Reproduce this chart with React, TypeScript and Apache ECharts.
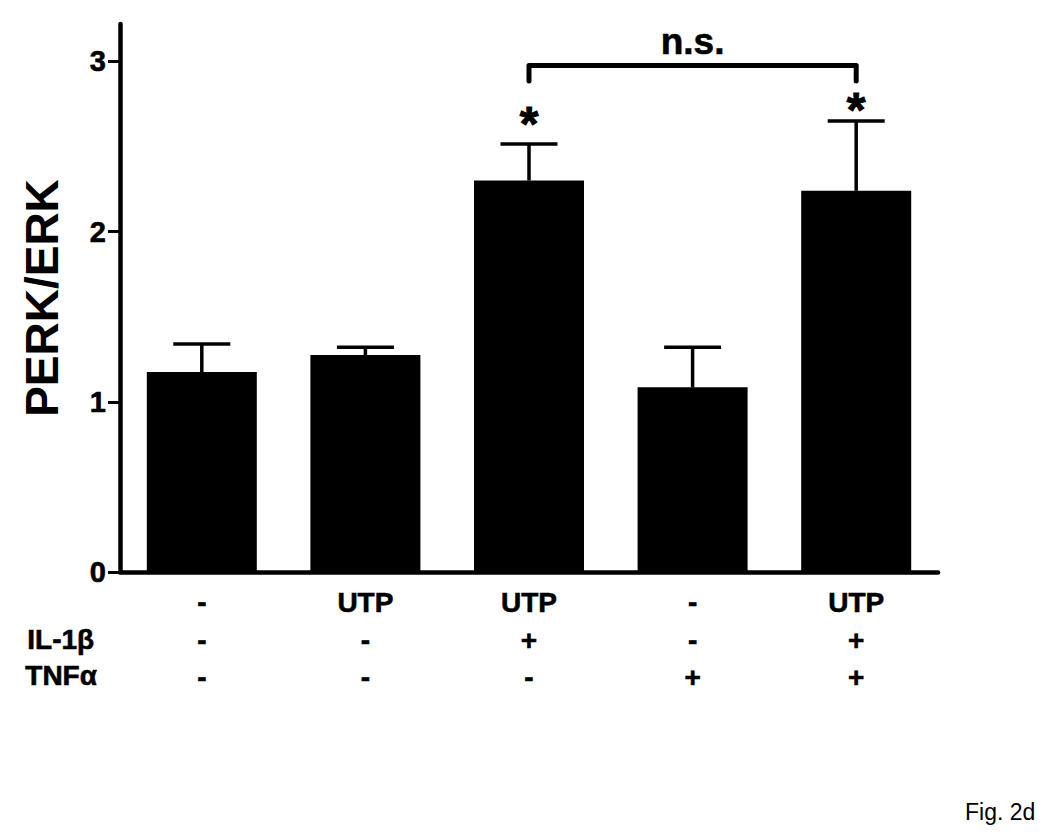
import React, { useEffect, useRef } from "react";
import * as echarts from "echarts";

// ---- data ----
const categories = ["Control", "UTP", "UTP + IL-1β", "TNFα", "UTP + IL-1β + TNFα"];
const utpRow = ["-", "UTP", "UTP", "-", "UTP"];
const il1bRow = ["-", "-", "+", "-", "+"];
const tnfaRow = ["-", "-", "-", "+", "+"];
const rowLabels = ["IL-1β", "TNFα"];
const means = [1.175, 1.275, 2.3, 1.085, 2.24];
const sems = [0.165, 0.045, 0.215, 0.235, 0.41];
const asteriskY: (number | null)[] = [null, null, 2.68, null, 2.76];
const yTicks = [0, 1, 2, 3];
const bracketFrom = 2;
const bracketTo = 4;
const bracketTop = 2.976;
const bracketFoot = 2.885;
const bracketLabel = "n.s.";
const bracketLabelY = 3.12;

const FONT = '"Liberation Sans", Arial, Helvetica, sans-serif';

export default function App() {
  const ref = useRef<HTMLDivElement>(null);

  useEffect(() => {
    document.body.style.margin = "0";
    if (!ref.current) return;
    const chart = echarts.init(ref.current, null, { renderer: "svg" });

    const errData = means.map((m, i) => [i, m, sems[i]]);
    const starData = asteriskY
      .map((y, i) => (y == null ? null : [i, y]))
      .filter((d) => d != null) as number[][];

    const option: any = {
      animation: false,
      backgroundColor: "#ffffff",
      grid: { left: 120, right: 112, top: 24, bottom: 264, containLabel: false },
      xAxis: {
        type: "category",
        data: categories,
        axisLine: { show: true, lineStyle: { color: "#000", width: 4.5, cap: "round" } },
        axisTick: { show: false },
        axisLabel: {
          interval: 0,
          margin: 12,
          color: "#000",
          fontFamily: FONT,
          fontWeight: "bold",
          fontSize: 28,
          lineHeight: 37.5,
          textBorderColor: "#000",
          textBorderWidth: 0.6,
          formatter: (_v: string, idx: number) =>
            `${utpRow[idx]}\n${il1bRow[idx]}\n${tnfaRow[idx]}`,
        },
        splitLine: { show: false },
      },
      yAxis: {
        type: "value",
        min: 0,
        max: 3.22,
        interval: 1,
        name: "PERK/ERK",
        nameLocation: "middle",
        nameGap: 55,
        nameTextStyle: {
          color: "#000",
          fontFamily: FONT,
          fontWeight: "bold",
          fontSize: 46,
        },
        axisLine: { show: true, lineStyle: { color: "#000", width: 4.5, cap: "round" } },
        axisTick: {
          show: true,
          length: 12,
          customValues: yTicks,
          lineStyle: { color: "#000", width: 3 },
        },
        axisLabel: {
          customValues: yTicks,
          margin: 14,
          color: "#000",
          fontFamily: FONT,
          fontWeight: "bold",
          fontSize: 29,
          textBorderColor: "#000",
          textBorderWidth: 0.6,
        },
        splitLine: { show: false },
      },
      series: [
        {
          type: "bar",
          data: means,
          barWidth: 110,
          itemStyle: { color: "#000" },
          z: 2,
        },
        {
          type: "custom",
          data: errData,
          encode: { x: 0, y: 1 },
          z: 3,
          renderItem: (_p: any, api: any) => {
            const i = api.value(0);
            const m = api.value(1);
            const e = api.value(2);
            const base = api.coord([i, m]);
            const top = api.coord([i, m + e]);
            return {
              type: "group",
              children: [
                {
                  type: "line",
                  shape: { x1: base[0], y1: base[1], x2: top[0], y2: top[1] },
                  style: { stroke: "#000", lineWidth: 3.5 },
                },
                {
                  type: "line",
                  shape: { x1: top[0] - 28.5, y1: top[1], x2: top[0] + 28.5, y2: top[1] },
                  style: { stroke: "#000", lineWidth: 3.5 },
                },
              ],
            };
          },
        },
        {
          type: "custom",
          data: starData,
          encode: { x: 0, y: 1 },
          z: 4,
          clip: false,
          renderItem: (_p: any, api: any) => {
            const pt = api.coord([api.value(0), api.value(1)]);
            const fs = 48;
            return {
              type: "text",
              x: pt[0],
              y: pt[1] + fs * 0.16,
              style: {
                text: "*",
                fill: "#000",
                font: `bold ${fs}px ${FONT}`,
                align: "center",
                verticalAlign: "middle",
                stroke: "#000",
                lineWidth: 1,
              },
            };
          },
        },
        {
          type: "custom",
          data: [[bracketFrom, bracketTo, bracketTop, bracketFoot, bracketLabelY]],
          encode: { x: 0, y: 2 },
          z: 4,
          clip: false,
          renderItem: (_p: any, api: any) => {
            const a = api.value(0);
            const b = api.value(1);
            const t = api.value(2);
            const f = api.value(3);
            const ly = api.value(4);
            const p1 = api.coord([a, f]);
            const p2 = api.coord([a, t]);
            const p3 = api.coord([b, t]);
            const p4 = api.coord([b, f]);
            const lp = api.coord([(a + b) / 2, ly]);
            return {
              type: "group",
              children: [
                {
                  type: "polyline",
                  shape: { points: [p1, p2, p3, p4] },
                  style: { stroke: "#000", lineWidth: 5, fill: null, lineJoin: "round", lineCap: "round" },
                },
                {
                  type: "text",
                  x: lp[0],
                  y: lp[1],
                  style: {
                    text: bracketLabel,
                    fill: "#000",
                    font: `bold 37px ${FONT}`,
                    align: "center",
                    verticalAlign: "middle",
                    stroke: "#000",
                    lineWidth: 0.6,
                  },
                },
              ],
            };
          },
        },
      ],
      graphic: [
        {
          type: "text",
          left: 27,
          top: 625,
          style: {
            text: rowLabels[0],
            fill: "#000",
            font: `bold 28px ${FONT}`,
            stroke: "#000",
            lineWidth: 0.6,
          },
        },
        {
          type: "text",
          left: 25,
          top: 661,
          style: {
            text: rowLabels[1],
            fill: "#000",
            font: `bold 28px ${FONT}`,
            stroke: "#000",
            lineWidth: 0.6,
          },
        },
        {
          type: "text",
          left: 965,
          top: 800,
          style: {
            text: "Fig. 2d",
            fill: "#000",
            font: `23px ${FONT}`,
          },
        },
      ],
    };

    chart.setOption(option);
    return () => chart.dispose();
  }, []);

  return <div ref={ref} style={{ width: 1050, height: 836 }} />;
}
